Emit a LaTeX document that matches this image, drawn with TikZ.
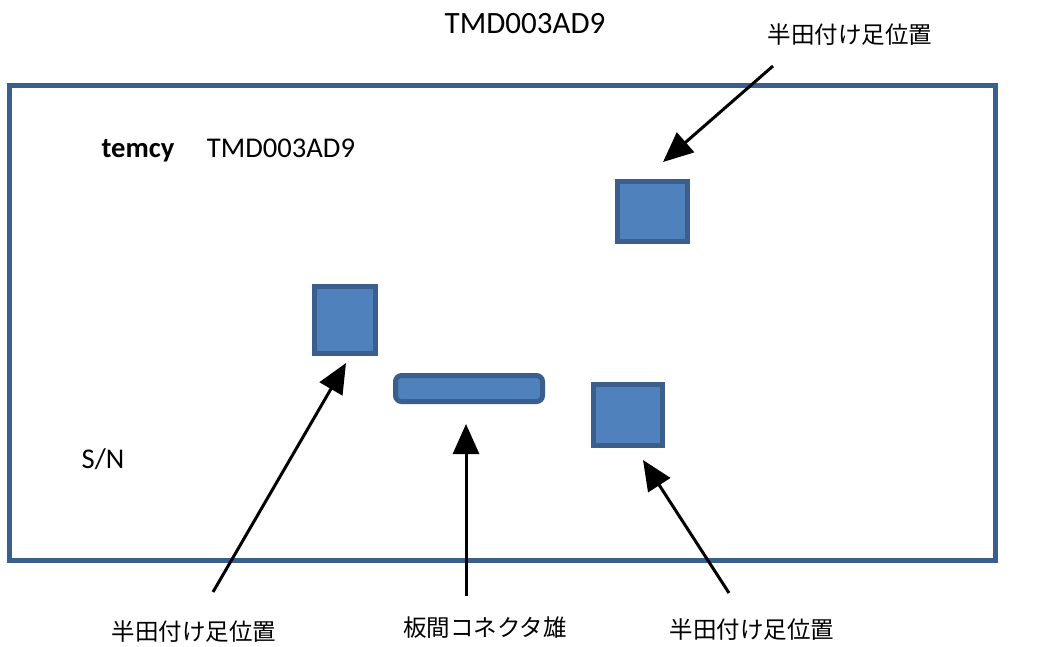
\documentclass[tikz,border=0pt]{standalone}
\usepackage{fontspec}
\setmainfont{Carlito}
\newfontfamily\jpfont{Noto Sans CJK JP}
\usetikzlibrary{arrows.meta}

\definecolor{padfill}{HTML}{4F81BD}
\definecolor{padline}{HTML}{3A5F8C}

\tikzset{
  pad/.style={draw=padline, fill=padfill, line width=5pt, inner sep=0pt},
  callout/.style={-{Triangle[length=30pt,width=26pt]}, line width=3pt},
  txt/.style={font=\fontsize{28.6}{34}\selectfont, inner sep=0pt, anchor=base},
  jptxt/.style={font=\fontsize{23.5}{28}\selectfont\jpfont, inner sep=0pt},
}

\begin{document}
\begin{tikzpicture}[x=1pt,y=-1pt]
   \useasboundingbox (0,0) rectangle (1038,646);

   % board outline
   \node[draw=padline, line width=5pt, minimum width=986pt, minimum height=475pt, inner sep=0pt] (board) at (502.5,323) {};

   % pads and connector
   \node[pad, minimum width=70pt, minimum height=60pt] (padTR) at (652.5,211.5) {};
   \node[pad, minimum width=61pt, minimum height=67pt] (padL) at (345,320) {};
   \node[pad, minimum width=69pt, minimum height=61pt] (padBR) at (628,415) {};
   \node[pad, rounded corners=6pt, minimum width=147pt, minimum height=26pt] (conn) at (469,388.5) {};

   % texts
   \node[txt, font=\fontsize{31}{36}\selectfont] (title) at (525,33) {TMD003AD9};
   \node[txt, font=\fontsize{28.6}{34}\selectfont\bfseries] (maker) at (138,157) {temcy};
   \node[txt] (model) at (281,157) {TMD003AD9};
   \node[txt] (sn) at (103,468) {S/N};
   \node[jptxt] (lblTR) at (850,35) {半田付け足位置};
   \node[jptxt] (lblL) at (194,632) {半田付け足位置};
   \node[jptxt] (lblC) at (485,628) {板間コネクタ雄};
   \node[jptxt] (lblR) at (752,630) {半田付け足位置};

   % arrows
   \coordinate (tailTR) at (773,66);  \coordinate (tipTR) at (663,162);
   \coordinate (tailL) at (213,592);  \coordinate (tipL) at (346,363);
   \coordinate (tailC) at (466,596);  \coordinate (tipC) at (466,424);
   \coordinate (tailR) at (729,593);  \coordinate (tipR) at (643,460);
   \draw[callout] (tailTR) -- (tipTR);
   \draw[callout] (tailL) -- (tipL);
   \draw[callout] (tailC) -- (tipC);
   \draw[callout] (tailR) -- (tipR);
\end{tikzpicture}
\end{document}
